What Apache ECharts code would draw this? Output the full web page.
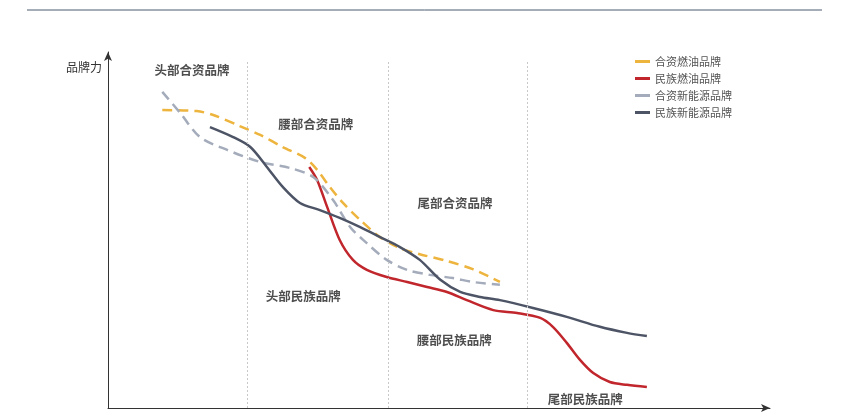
<!DOCTYPE html>
<html><head><meta charset="utf-8">
<script src="https://cdn.jsdelivr.net/npm/echarts@6/dist/echarts.min.js"></script>
<style>html,body{margin:0;padding:0;background:#fff}#c{width:852px;height:412px}</style>
</head><body><div id="c"></div>
<script>
// Relative positions (x: brand rank 0-100, y: 品牌力 0-100)
const jvFuel = [[8.2,83.7],[13.4,83.4],[15.9,82.3],[19.9,79.2],[23.0,76.7],[26.4,73.3],[29.8,70.2],[31.6,66.9],[33.5,62.1],[35.5,57.6],[38.1,52.8],[41.1,48.0],[44.1,44.9],[47.1,43.2],[51.2,41.3],[55.1,39.0],[59.2,35.4]];
const localFuel = [[30.4,67.7],[31.6,64.0],[33.1,56.5],[35.0,47.2],[37.0,41.6],[39.1,38.8],[42.1,36.8],[45.2,35.4],[48.2,34.0],[51.2,32.6],[54.2,30.3],[58.2,27.5],[61.8,26.7],[65.3,25.3],[67.2,22.8],[69.3,18.3],[71.3,13.5],[73.3,9.8],[75.8,7.3],[78.4,6.5],[81.4,5.9]];
const jvNev = [[8.2,88.8],[10.9,82.9],[13.9,76.1],[18.0,72.5],[23.0,69.1],[27.5,67.4],[31.0,64.9],[34.0,58.4],[36.6,50.8],[39.1,46.3],[42.1,41.6],[45.2,38.8],[48.6,37.4],[52.1,36.5],[55.1,35.4],[59.2,34.6]];
const localNev = [[15.4,78.9],[18.9,76.1],[21.5,73.3],[24.0,67.7],[26.4,62.1],[29.0,57.6],[32.0,55.6],[35.0,53.4],[38.1,50.8],[41.1,48.0],[44.1,45.2],[47.1,41.6],[50.2,36.0],[53.2,32.6],[56.2,31.2],[59.2,30.3],[64.2,28.1],[69.3,25.6],[74.3,22.8],[78.4,21.1],[81.4,20.2]];
const seriesNames = ['合资燃油品牌','民族燃油品牌','合资新能源品牌','民族新能源品牌'];
const dividers = [21.1, 42.3, 63.3];
const annotations = [[12.7,95.0,'头部合资品牌'],[31.4,79.8,'腰部合资品牌'],[52.4,57.6,'尾部合资品牌'],[29.5,31.5,'头部民族品牌'],[52.3,19.1,'腰部民族品牌'],[72.1,2.5,'尾部民族品牌']];

const colors = ['#EDB43E','#C0262C','#A4ACBB','#4D5465'];
const font = '"Noto Sans CJK SC","Noto Sans",sans-serif';
const chart = echarts.init(document.getElementById('c'));
const axisCommon = {
  type:'value', min:0, max:100,
  axisLine:{show:true, lineStyle:{color:'#333', width:1}, symbol:['none','arrow'], symbolSize:[6,9]},
  axisTick:{show:false}, axisLabel:{show:false}, splitLine:{show:false}
};
function lineSeries(i, data, dashed){
  return {
    name: seriesNames[i], type:'line', data, smooth:0.3, symbol:'none', z:3,
    lineStyle:{color:colors[i], width:2.5, type: dashed ? [10,6] : 'solid'},
    itemStyle:{color:colors[i]}
  };
}
const s0 = lineSeries(0, jvFuel, true);
s0.markLine = {
  silent:true, symbol:'none', label:{show:false},
  lineStyle:{color:'#c8c8c8', width:1, type:[2,2]},
  data: dividers.map(x => [{coord:[x,0]},{coord:[x,97.2]}])
};
chart.setOption({
  animation:false,
  textStyle:{fontFamily:font},
  grid:{left:108, right:82, top:52, bottom:4},
  xAxis: axisCommon,
  yAxis: Object.assign({}, axisCommon, {
    name:'品牌力', nameLocation:'end', nameGap:-15,
    nameTextStyle:{align:'right', verticalAlign:'middle', padding:[0,6,0,0], fontSize:12, color:'#333', fontFamily:font}
  }),
  legend:{
    orient:'vertical', left:630, top:51, itemWidth:15, itemHeight:3, icon:'rect', itemGap:6,
    textStyle:{fontSize:11, color:'#555', fontFamily:font},
    data: seriesNames
  },
  graphic:[{type:'line', shape:{x1:27,y1:10,x2:822,y2:10}, style:{stroke:'#4a5a70', lineWidth:1}}],
  series:[
    s0,
    lineSeries(1, localFuel, false),
    lineSeries(2, jvNev, true),
    lineSeries(3, localNev, false),
    {
      type:'scatter', symbolSize:0, silent:true, z:5,
      data: annotations.map(a => ({value:[a[0],a[1]], name:a[2]})),
      label:{show:true, position:'inside', formatter:p=>p.name, fontSize:12.5, fontWeight:'bold', color:'#222', fontFamily:font}
    }
  ]
});
</script></body></html>
